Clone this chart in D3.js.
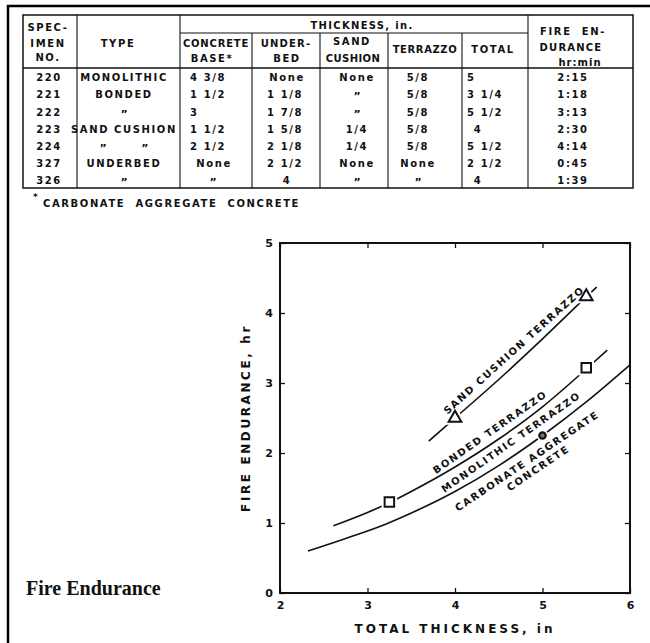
<!DOCTYPE html>
<html>
<head>
<meta charset="utf-8">
<script src="https://cdn.jsdelivr.net/npm/d3@7"></script>
<style>
  body { margin: 0; background: #fff; }
  svg text { font-family: "DejaVu Sans", sans-serif; font-weight: bold; fill: #111; }
</style>
</head>
<body>
<svg id="chart" width="650" height="643"></svg>
<script>
// table data
const DIT = "\u201D";
const specimens = ["220", "221", "222", "223", "224", "327", "326"];
const types = ["MONOLITHIC", "BONDED", DIT, "SAND CUSHION", DIT + "         " + DIT, "UNDERBED", DIT];
const concreteBase = ["4 3/8", "1 1/2", "3", "1 1/2", "2 1/2", "None", DIT];
const underbed = ["None", "1 1/8", "1 7/8", "1 5/8", "2 1/8", "2 1/2", "4"];
const sandCushion = ["None", DIT, DIT, "1/4", "1/4", "None", DIT];
const terrazzo = ["5/8", "5/8", "5/8", "5/8", "5/8", "None", DIT];
const totalThickness = ["5", "3 1/4", "5 1/2", "4", "5 1/2", "2 1/2", "4"];
const fireEndurance = ["2:15", "1:18", "3:13", "2:30", "4:14", "0:45", "1:39"];

// curves (total thickness in, fire endurance hr)
const sandCushionCurve = [[3.70, 2.17], [4.0, 2.50], [4.5, 3.05], [5.0, 3.63], [5.5, 4.23], [5.62, 4.37]];
const bondedCurve = [[2.61, 0.96], [3.0, 1.15], [3.25, 1.29], [3.5, 1.45], [4.0, 1.80], [4.5, 2.20], [5.0, 2.66], [5.5, 3.20], [5.74, 3.47]];
const monolithicCurve = [[2.32, 0.60], [2.8, 0.80], [3.2, 0.98], [3.6, 1.20], [4.0, 1.45], [4.5, 1.82], [5.0, 2.25], [5.5, 2.73], [6.0, 3.26]];

// test points
const sandPoints = [[4.0, 2.5], [5.5, 4.233]];
const bondedPoints = [[3.25, 1.3], [5.5, 3.217]];
const monolithicPoints = [[5.0, 2.25]];

const xTicks = [2, 3, 4, 5, 6];
const yTicks = [0, 1, 2, 3, 4, 5];

const svg = d3.select("#chart");
svg.append("rect").attr("width", 650).attr("height", 643).attr("fill", "#fff");

// outer frame (top and left edge of the page)
svg.append("path").attr("d", "M8,643 L8,6 L650,6")
  .attr("fill", "none").attr("stroke", "#000").attr("stroke-width", 2.5);

// ---------- table ----------
const colX = [23, 77, 180, 252, 320, 388, 462, 528, 633];
const tTop = 15, tMid = 33, tHead = 68, tBot = 188;
const tbl = svg.append("g").attr("stroke", "#111").attr("fill", "none");
tbl.append("rect").attr("x", colX[0]).attr("y", tTop)
  .attr("width", colX[8] - colX[0]).attr("height", tBot - tTop).attr("stroke-width", 1.5);
tbl.append("line").attr("x1", colX[0]).attr("x2", colX[8]).attr("y1", tHead).attr("y2", tHead).attr("stroke-width", 1.3);
tbl.append("line").attr("x1", colX[2]).attr("x2", colX[7]).attr("y1", tMid).attr("y2", tMid).attr("stroke-width", 1.1);
colX.slice(1, 8).forEach((x, i) => {
  const inner = i >= 2 && i <= 5;
  tbl.append("line").attr("x1", x).attr("x2", x)
    .attr("y1", inner ? tMid : tTop).attr("y2", tBot).attr("stroke-width", 1.1);
});

const txt = (x, y, s, anchor, size, sp) => svg.append("text")
  .attr("x", x).attr("y", y).attr("text-anchor", anchor || "middle")
  .style("font-size", (size || 10) + "px").style("letter-spacing", (sp == null ? 1.6 : sp) + "px")
  .style("white-space", "pre").text(s);

// header
txt(48, 30.5, "SPEC-"); txt(48, 46.5, "IMEN"); txt(48, 60.5, "NO.");
txt(118, 46.5, "TYPE");
txt(362, 28.5, "THICKNESS, in.", "middle", 10, 1.3);
txt(216, 46.5, "CONCRETE", "middle", 10, 0.8); txt(212, 61.5, "BASE*");
txt(286, 46.5, "UNDER-", "middle", 10, 1.2); txt(287, 61.5, "BED");
txt(352, 45, "SAND"); txt(353, 61.5, "CUSHION", "middle", 10, 0.4);
txt(425, 52.5, "TERRAZZO", "middle", 10, 0.6);
txt(493, 52.5, "TOTAL");
txt(573, 34.5, "FIRE  EN-"); txt(571, 50.5, "DURANCE", "middle", 10, 1.2); txt(580, 65.5, "hr:min", "middle", 10, 1);

// body rows
const columns = [
  { vals: specimens, x: 49, anchor: "middle" },
  { vals: types, x: 124, anchor: "middle" },
  { vals: concreteBase, x: 190, anchor: "start", ditto: 214 },
  { vals: underbed, x: 267, anchor: "start", ditto: 287 },
  { vals: sandCushion, x: 357, anchor: "middle" },
  { vals: terrazzo, x: 418, anchor: "middle" },
  { vals: totalThickness, x: 467, anchor: "start", ditto: 478 },
  { vals: fireEndurance, x: 573, anchor: "middle" }
];
const rowY = d3.scaleLinear().domain([0, 6]).range([81.2, 184.4]);
columns.forEach(c => {
  c.vals.forEach((v, i) => {
    if (v === DIT && c.ditto) txt(c.ditto, rowY(i) + 2, v, "middle", 11);
    else if (v.startsWith(DIT)) txt(c.x, rowY(i) + 2, v, c.anchor, 11, 0);
    else if (v === "None" || v === "4" && c.ditto) txt(c.ditto || c.x, rowY(i), v, "middle");
    else txt(c.x, rowY(i), v, c.anchor);
  });
});

// footnote
txt(33, 200, "*", "start", 9);
txt(43, 206.5, "CARBONATE  AGGREGATE  CONCRETE", "start");

// ---------- graph ----------
const x = d3.scaleLinear().domain([2, 6]).range([280, 630]);
const y = d3.scaleLinear().domain([0, 5]).range([593, 243]);

svg.append("rect").attr("x", x(2)).attr("y", y(5))
  .attr("width", x(6) - x(2)).attr("height", y(0) - y(5))
  .attr("fill", "none").attr("stroke", "#111").attr("stroke-width", 2);

const styleAxis = g => {
  g.select(".domain").remove();
  g.selectAll("line").attr("stroke", "#111").attr("stroke-width", 1.3);
  g.selectAll("text").style("font-size", "11px").style("font-family", "DejaVu Sans").style("font-weight", "bold").attr("fill", "#111");
};
svg.append("g").attr("transform", `translate(0,${y(0)})`)
  .call(d3.axisBottom(x).tickValues(xTicks).tickFormat(d3.format("d")).tickSizeInner(-5).tickSizeOuter(0).tickPadding(8))
  .call(styleAxis);
svg.append("g").attr("transform", `translate(0,${y(5)})`)
  .call(d3.axisTop(x).tickValues(xTicks).tickFormat("").tickSizeInner(-5).tickSizeOuter(0))
  .call(styleAxis);
svg.append("g").attr("transform", `translate(${x(2)},0)`)
  .call(d3.axisLeft(y).tickValues(yTicks).tickFormat(d3.format("d")).tickSizeInner(-5).tickSizeOuter(0).tickPadding(7))
  .call(styleAxis);
svg.append("g").attr("transform", `translate(${x(6)},0)`)
  .call(d3.axisRight(y).tickValues(yTicks).tickFormat("").tickSizeInner(-5).tickSizeOuter(0))
  .call(styleAxis);

// axis titles
svg.append("text").attr("x", 455).attr("y", 633).attr("text-anchor", "middle")
  .style("font-size", "12px").style("letter-spacing", "3px").text("TOTAL  THICKNESS,  in");
svg.append("text").attr("transform", "translate(250,418) rotate(-90)").attr("text-anchor", "middle")
  .style("font-size", "12px").style("letter-spacing", "2.6px").text("FIRE  ENDURANCE,  hr");

// curves
const line = d3.line().x(d => x(d[0])).y(d => y(d[1])).curve(d3.curveMonotoneX);
[sandCushionCurve, bondedCurve, monolithicCurve].forEach(c => {
  svg.append("path").datum(c).attr("d", line)
    .attr("fill", "none").attr("stroke", "#111").attr("stroke-width", 1.6);
});

// markers (white halo breaks the line like the original)
const sq = d3.symbol().type(d3.symbolSquare).size(90);
const tri = d3.symbol().type(d3.symbolTriangle).size(70);
const drawMarks = (pts, sym, r) => {
  pts.forEach(p => {
    const g = svg.append("g").attr("transform", `translate(${x(p[0])},${y(p[1])})`);
    if (sym) {
      g.append("path").attr("d", sym).attr("fill", "#fff").attr("stroke", "#fff").attr("stroke-width", 6);
      g.append("path").attr("d", sym).attr("fill", "#fff").attr("stroke", "#111").attr("stroke-width", 2);
    } else {
      g.append("circle").attr("r", r + 2.5).attr("fill", "#fff");
      g.append("circle").attr("r", r).attr("fill", "#777").attr("stroke", "#111").attr("stroke-width", 2.2);
    }
  });
};
drawMarks(sandPoints, tri);
drawMarks(bondedPoints, sq);
drawMarks(monolithicPoints, null, 3.2);

// curve labels (positions in data units)
const curveLabels = [
  { t: "SAND CUSHION TERRAZZO", p: [4.674, 3.471], a: -42 },
  { t: "BONDED TERRAZZO", p: [4.40, 2.30], a: -35 },
  { t: "MONOLITHIC TERRAZZO", p: [4.64, 2.157], a: -35 },
  { t: "CARBONATE AGGREGATE", p: [4.823, 1.886], a: -34 },
  { t: "CONCRETE", p: [4.949, 1.786], a: -34 }
];
curveLabels.forEach(l => {
  svg.append("text")
    .attr("transform", `translate(${x(l.p[0])},${y(l.p[1])}) rotate(${l.a})`)
    .attr("text-anchor", "middle").attr("dy", "0.36em")
    .style("font-size", "10px").style("letter-spacing", "1.7px").text(l.t);
});

// caption
svg.append("text").attr("x", 26).attr("y", 595)
  .style("font-family", "'Liberation Serif', 'Times New Roman', serif").style("font-weight", "bold")
  .style("font-size", "20px").text("Fire Endurance");
</script>
</body>
</html>
